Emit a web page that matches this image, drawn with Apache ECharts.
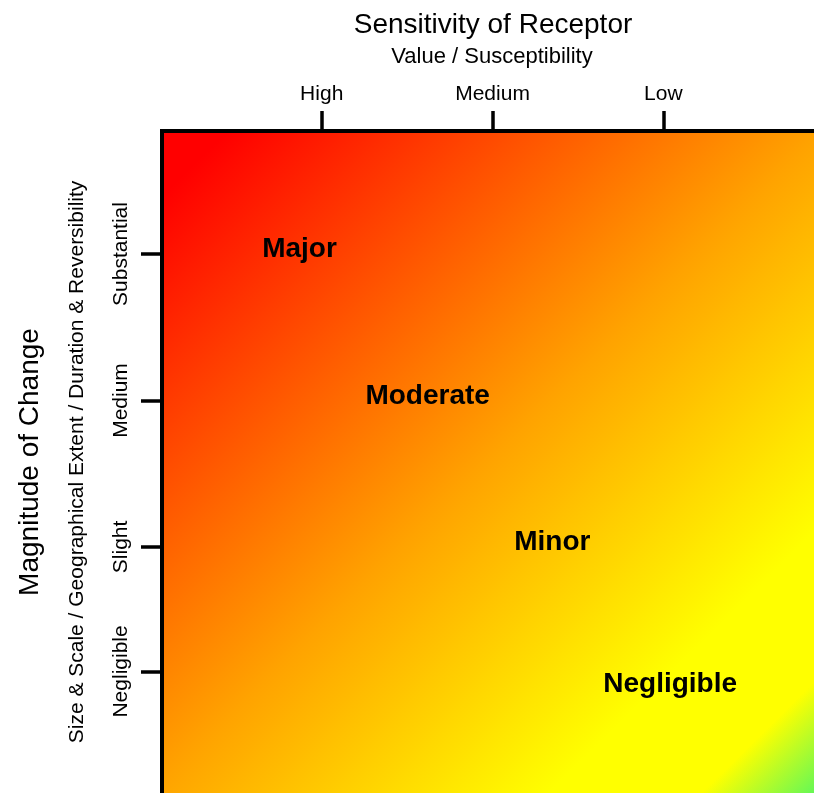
<!DOCTYPE html>
<html>
<head>
<meta charset="utf-8">
<style>
  html, body { margin: 0; padding: 0; background: #fff; }
  #chart { width: 814px; height: 793px; }
</style>
<script src="https://cdn.jsdelivr.net/npm/echarts@6/dist/echarts.min.js"></script>
</head>
<body>
<div id="chart"></div>
<script>
// sensitivity (top axis) and magnitude (left axis) scales
const sensitivityLabels = ['High', 'Medium', 'Low'];
const sensitivityTicks = [1, 2, 3];
const sensitivityRange = [0.065, 3.882];

const magnitudeLabels = ['Substantial', 'Medium', 'Slight', 'Negligible'];
const magnitudeTicks = [4, 3, 2, 1.15];
const magnitudeRange = [0.32, 4.84];

// effect significance labels placed on the matrix
const effectNames = ['Major', 'Moderate', 'Minor', 'Negligible'];
const effectX = [0.87, 1.62, 2.35, 3.04];
const effectY = [4.03, 3.03, 2.03, 1.06];

const FONT = '"Liberation Sans", Arial, sans-serif';

function initMatrixChart() {
    const chartDom = document.getElementById('chart');
    const chart = echarts.init(chartDom);

    const option = {
        animation: false,
        textStyle: { fontFamily: FONT },
        grid: {
            left: 162,
            top: 131,
            right: 0,
            bottom: 0,
            show: true,
            borderWidth: 0,
            backgroundColor: {
                type: 'linear',
                x: 0, y: 0, x2: 1, y2: 1,
                colorStops: [
                    { offset: 0, color: '#ff0000' },
                    { offset: 0.05, color: '#ff0000' },
                    { offset: 0.5, color: '#ffa300' },
                    { offset: 0.8, color: '#ffff00' },
                    { offset: 0.915, color: '#ffff00' },
                    { offset: 1, color: '#66f855' }
                ]
            }
        },
        xAxis: {
            type: 'value',
            position: 'top',
            min: sensitivityRange[0],
            max: sensitivityRange[1],
            z: 10,
            name: '{a|Sensitivity of Receptor}\n{b|Value / Susceptibility}',
            nameLocation: 'middle',
            nameGap: 61,
            nameTextStyle: {
                rich: {
                    a: { fontSize: 28, lineHeight: 38, color: '#000', fontFamily: FONT, padding: [0, 0, 0, 10] },
                    b: { fontSize: 22, lineHeight: 26, color: '#000', fontFamily: FONT, padding: [0, 0, 0, 8] }
                }
            },
            axisLine: { lineStyle: { color: '#000', width: 4, cap: 'square' } },
            axisTick: {
                customValues: sensitivityTicks,
                length: 20,
                lineStyle: { color: '#000', width: 3.5 }
            },
            axisLabel: {
                customValues: sensitivityTicks,
                margin: 26,
                fontSize: 21,
                color: '#000',
                formatter: v => sensitivityLabels[sensitivityTicks.indexOf(v)]
            },
            splitLine: { show: false }
        },
        yAxis: {
            type: 'value',
            min: magnitudeRange[0],
            max: magnitudeRange[1],
            z: 10,
            name: '{a|Magnitude of Change}\n{b|Size & Scale / Geographical Extent / Duration & Reversibility}',
            nameLocation: 'middle',
            nameRotate: 90,
            nameGap: 69,
            nameTextStyle: {
                rich: {
                    a: { fontSize: 28, lineHeight: 62, color: '#000', fontFamily: FONT },
                    b: { fontSize: 21, lineHeight: 32, color: '#000', fontFamily: FONT }
                }
            },
            axisLine: { lineStyle: { color: '#000', width: 4, cap: 'square' } },
            axisTick: {
                customValues: magnitudeTicks,
                length: 21,
                lineStyle: { color: '#000', width: 3.5 }
            },
            axisLabel: {
                customValues: magnitudeTicks,
                rotate: 90,
                margin: 30,
                fontSize: 21,
                color: '#000',
                formatter: v => magnitudeLabels[magnitudeTicks.indexOf(v)]
            },
            splitLine: { show: false }
        },
        series: [
            {
                type: 'scatter',
                symbolSize: 1,
                itemStyle: { color: 'rgba(0,0,0,0)', opacity: 1 },
                emphasis: { disabled: true },
                label: {
                    show: true,
                    position: 'inside',
                    formatter: p => p.name,
                    fontSize: 28,
                    fontWeight: 'bold',
                    color: '#000',
                    fontFamily: FONT
                },
                data: effectNames.map((n, i) => ({ name: n, value: [effectX[i], effectY[i]] }))
            }
        ]
    };

    chart.setOption(option);
    window.addEventListener('resize', () => chart.resize());
}

document.addEventListener('DOMContentLoaded', function () {
    if (typeof echarts === 'undefined') {
        console.error('ECharts not loaded');
        return;
    }
    initMatrixChart();
});
</script>
</body>
</html>
